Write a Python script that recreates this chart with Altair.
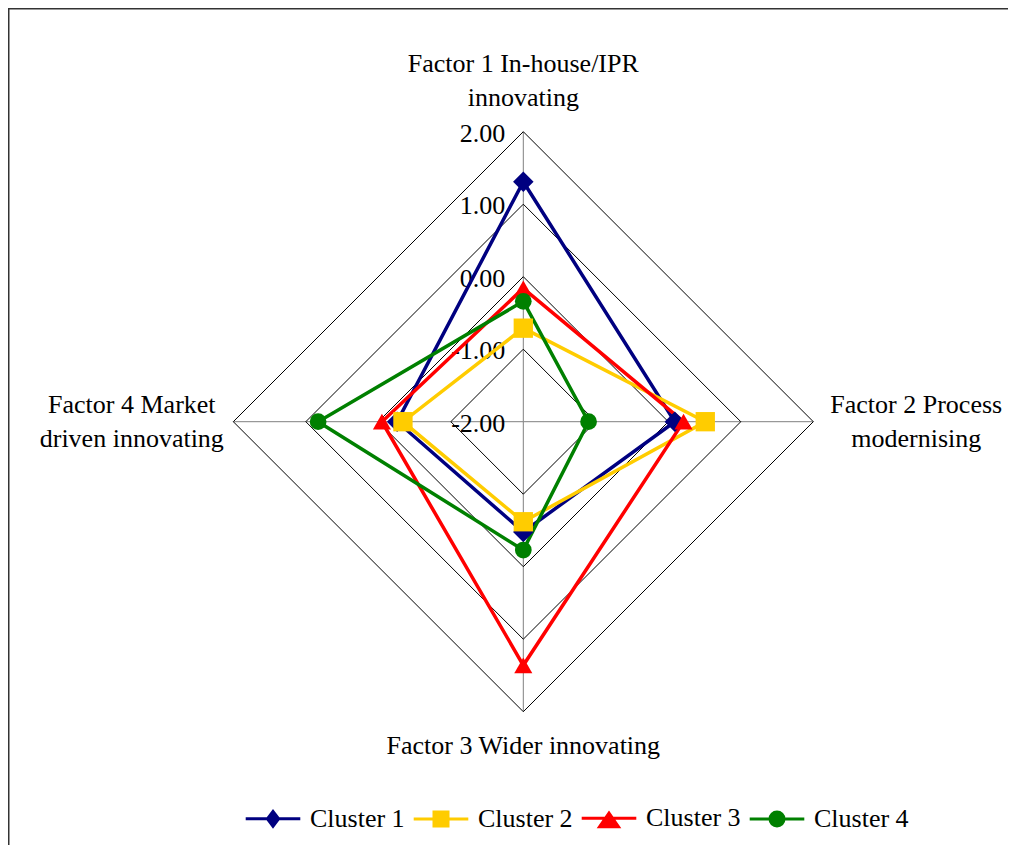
import altair as alt
import numpy as np
import pandas as pd

# ---------------- data ----------------
factors = [
    "Factor 1 In-house/IPR\ninnovating",
    "Factor 2 Process\nmodernising",
    "Factor 3 Wider innovating",
    "Factor 4 Market\ndriven innovating",
]
clusters = ["Cluster 1", "Cluster 2", "Cluster 3", "Cluster 4"]
cluster1 = [1.31, 0.09, -0.48, -0.26]
cluster2 = [-0.71, 0.51, -0.62, -0.34]
cluster3 = [-0.16, 0.21, 1.36, -0.05]
cluster4 = [-0.34, -1.10, -0.23, 0.83]
tick_values = [-2.0, -1.0, 0.0, 1.0, 2.0]
tick_labels = ["-2.00", "-1.00", "0.00", "1.00", "2.00"]

colors = ["#000080", "#FFCC00", "#FF0000", "#008000"]
plot_shapes = ["diamond", "square", "triangle-up", "circle"]
legend_shapes = [
    "M-3.9,0H3.9M-0.8,0L0,-1.05L0.8,0L0,1.05Z",
    "M-3.9,0H3.9M-1,-1H1V1H-1Z",
    "M-3.9,0H3.9M0,-0.75L1.35,1.2L-1.35,1.2Z",
    "M-3.9,0H3.9M-1,0A1,1 0 1,0 1,0A1,1 0 1,0 -1,0Z",
]

FONT = "Liberation Serif"
RMIN = tick_values[0]
RMAX = tick_values[-1] - RMIN
n = len(factors)
angles = [i * 2 * np.pi / n for i in range(n)]

# ---------------- layout ----------------
W, H = 1000, 837
UNIT = 72.5
CX, CY = 515.3, 413.7
LINE_H = 34

def polar(r, a):
    return float(np.round(r * np.sin(a), 6)), float(np.round(r * np.cos(a), 6))

# series table
rows = []
for cname, vals in zip(clusters, [cluster1, cluster2, cluster3, cluster4]):
    for k in range(n + 1):
        i = k % n
        x, y = polar(vals[i] - RMIN, angles[i])
        rows.append({"cluster": cname, "idx": k, "x": x, "y": y, "value": vals[i]})
series_df = pd.DataFrame(rows)
points_df = series_df[series_df["idx"] < n]

# grid rings
ring_rows = []
for lv in tick_values[1:]:
    for k in range(n + 1):
        i = k % n
        x, y = polar(lv - RMIN, angles[i])
        ring_rows.append({"ring": lv, "idx": k, "x": x, "y": y})
ring_df = pd.DataFrame(ring_rows)

# spokes
spoke_rows = []
for i in range(n):
    x2, y2 = polar(RMAX, angles[i])
    spoke_rows.append({"x": 0.0, "y": 0.0, "x2": x2, "y2": y2})
spoke_df = pd.DataFrame(spoke_rows)

# tick labels
tick_df = pd.DataFrame({"x": [0.0] * len(tick_values),
                        "y": [v - RMIN for v in tick_values],
                        "label": tick_labels})

# factor labels (layout radius per direction, multi-line blocks centred)
LABEL_R = [RMAX + 0.70, RMAX + 1.42, RMAX + 0.47, RMAX + 1.40]
lab_rows = []
for i in range(n):
    x, y = polar(LABEL_R[i], angles[i])
    nl = factors[i].count("\n")
    y += nl * (LINE_H / 2) / UNIT
    lab_rows.append({"x": x, "y": y, "label": factors[i]})
lab_df = pd.DataFrame(lab_rows)

legend_df = pd.DataFrame({"cluster": clusters})

xmin = -CX / UNIT
xmax = xmin + W / UNIT
ymax = CY / UNIT
ymin = ymax - H / UNIT
XS = alt.Scale(domain=[xmin, xmax], nice=False, zero=False)
YS = alt.Scale(domain=[ymin, ymax], nice=False, zero=False)

X = alt.X("x:Q", scale=XS, axis=None)
Y = alt.Y("y:Q", scale=YS, axis=None)

color_scale = alt.Scale(domain=clusters, range=colors)

spokes = alt.Chart(spoke_df).mark_rule(color="#808080", strokeWidth=1).encode(
    x=X, y=Y, x2="x2:Q", y2="y2:Q"
)

rings = alt.Chart(ring_df).mark_line(color="#000000", strokeWidth=1).encode(
    x=X, y=Y, detail="ring:N", order=alt.Order("idx:Q")
)

ticks = alt.Chart(tick_df).mark_text(
    align="right", baseline="middle", dx=-18, dy=2, font=FONT, fontSize=26, color="#000000"
).encode(x=X, y=Y, text="label:N")

lines = alt.Chart(series_df).mark_line(strokeWidth=3.5).encode(
    x=X, y=Y,
    color=alt.Color("cluster:N", scale=color_scale, legend=None),
    detail="cluster:N",
    order=alt.Order("idx:Q"),
)

points = alt.Chart(points_df).mark_point(filled=True, opacity=1, size=360).encode(
    x=X, y=Y,
    color=alt.Color("cluster:N", scale=color_scale, legend=None),
    shape=alt.Shape("cluster:N", scale=alt.Scale(domain=clusters, range=plot_shapes), legend=None),
    size=alt.Size("cluster:N", scale=alt.Scale(domain=clusters, range=[420, 280, 350, 320]), legend=None),
)

flabels = alt.Chart(lab_df).mark_text(
    align="center", baseline="middle", lineBreak="\n", lineHeight=LINE_H,
    font=FONT, fontSize=26, color="#000000"
).encode(x=X, y=Y, text="label:N")

leg = alt.Legend(
    title=None, orient="none", legendX=252, legendY=797, direction="horizontal",
    labelFont=FONT, labelFontSize=26, labelColor="#000000", symbolSize=196,
    symbolStrokeWidth=3, labelOffset=24, columnPadding=2, padding=0,
    symbolOpacity=1,
)
legend_layer = alt.Chart(legend_df).mark_point(
    filled=True, opacity=1, strokeWidth=3, clip=True
).encode(
    x=alt.value(-200), y=alt.value(-200),
    fill=alt.Fill("cluster:N", scale=alt.Scale(domain=clusters, range=colors), legend=leg),
    stroke=alt.Stroke("cluster:N", scale=alt.Scale(domain=clusters, range=colors), legend=leg),
    shape=alt.Shape("cluster:N", scale=alt.Scale(domain=clusters, range=legend_shapes), legend=leg),
)

frame_src = pd.DataFrame({"a": [0]})
frame_left = alt.Chart(frame_src).mark_rule(color="#333333", strokeWidth=2).encode(
    x=alt.value(0.5), y=alt.value(0), y2=alt.value(H)
)
frame_top = alt.Chart(frame_src).mark_rule(color="#333333", strokeWidth=2).encode(
    x=alt.value(0), x2=alt.value(W), y=alt.value(0.5)
)

chart = alt.layer(
    spokes, rings, ticks, lines, points, flabels, legend_layer, frame_left, frame_top
).resolve_scale(
    shape="independent", fill="independent", stroke="independent", size="independent"
).properties(
    width=W, height=H, autosize=alt.AutoSizeParams(type="none"), padding=0
).configure_view(stroke=None)

chart.save("out.html", embed_options={"renderer": "svg", "actions": False})
